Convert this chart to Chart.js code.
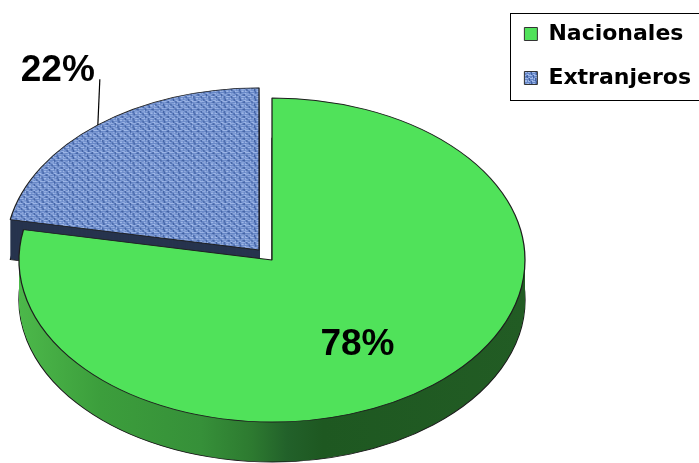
<!DOCTYPE html>
<html>
<head>
<meta charset="utf-8">
<script src="https://cdn.jsdelivr.net/npm/chart.js@4/dist/chart.umd.min.js"></script>
<style>
  html, body { margin: 0; padding: 0; background: #fff; overflow: hidden; }
  canvas { display: block; }
</style>
</head>
<body>
<canvas id="chart" width="699" height="463"></canvas>
<script>
// Visitor origin shares (percent)
const categories = ['Nacionales', 'Extranjeros'];
const shares = [78, 22];
const explode = [0, 64];

// Woven tile used for the "Extranjeros" slice
const weaveRows = [
  'LL.DLLL.DLL.',
  '...D....D...',
  'L.lD.LL.D.lL',
  'LLLL.DLLLL.D',
  '.....D....DD',
  'lL..LD.lL..D',
  '.DLLL.LD.LLL',
  '.D....LD....',
  'LD.lL..D.LL.'
];
const weaveInk = { '.': '#6787c7', L: '#9fb8e8', l: '#84a1da', D: '#4262a4' };

function wovenPattern() {
  const c = document.createElement('canvas');
  c.width = weaveRows[0].length; c.height = weaveRows.length;
  const g = c.getContext('2d');
  weaveRows.forEach((row, y) => {
    [...row].forEach((ch, x) => { g.fillStyle = weaveInk[ch]; g.fillRect(x, y, 1, 1); });
  });
  return document.getElementById('chart').getContext('2d').createPattern(c, 'repeat');
}

const sliceColors = ['#50e25a', wovenPattern()];

// Shared mapping from the pie's circular layout to the tilted ellipse
function tiltMap(chart) {
  const o = chart.options.plugins.tiltedPie;
  const arcs = chart.getDatasetMeta(0).data;
  const { x: ox, y: oy, outerRadius: R } = arcs[0];
  const sx = o.rx / R, sy = o.ry / R;
  return {
    o, arcs, ox, oy, R, sx, sy,
    toScreen(px, py) { return [o.cx + (px - ox) * sx, o.cy + (py - oy) * sy]; }
  };
}

// Draws the pie as a tilted disc with a side wall
const tiltedPie = {
  id: 'tiltedPie',
  beforeDatasetsDraw(chart) {
    const ctx = chart.ctx;
    const { o, arcs, ox, oy, R, sx, sy } = tiltMap(chart);
    ctx.save();
    ctx.translate(o.cx, o.cy);
    ctx.scale(sx, sy);
    ctx.translate(-ox, -oy);

    const grad = ctx.createLinearGradient(ox - R, 0, ox + R, 0);
    o.sideStops.forEach(([p, c]) => grad.addColorStop(p, c));
    const sides = [grad, o.backSide];

    const paint = (arc, patch) => {
      const keep = arc.options;
      arc.options = Object.assign({}, keep, patch);
      arc.draw(ctx);
      arc.options = keep;
    };

    o.order.forEach(i => {
      const arc = arcs[i];
      for (let d = o.depth; d >= 1; d--) {
        ctx.save();
        ctx.translate(0, d / sy);
        paint(arc, d === o.depth
          ? { backgroundColor: sides[i], borderColor: o.edge, borderWidth: 1 }
          : { backgroundColor: sides[i], borderWidth: 0 });
        ctx.restore();
      }
      arc.draw(ctx);
    });
    ctx.restore();
    return false;
  }
};

// Percentage labels on/next to the slices
const sliceLabels = {
  id: 'sliceLabels',
  afterDraw(chart) {
    const ctx = chart.ctx;
    const { arcs, R, toScreen } = tiltMap(chart);
    ctx.save();
    ctx.fillStyle = '#000';
    ctx.strokeStyle = '#000';
    ctx.font = 'bold 37px "Liberation Sans", Arial, sans-serif';
    arcs.forEach((arc, i) => {
      const mid = (arc.startAngle + arc.endAngle) / 2;
      const shift = (arc.options.offset || 0) / 4;
      const bx = arc.x + Math.cos(mid) * shift, by = arc.y + Math.sin(mid) * shift;
      const text = shares[i] + '%';
      if (i === 0) {
        const [x, y] = toScreen(bx + Math.cos(mid) * R * 0.53, by + Math.sin(mid) * R * 0.53);
        ctx.textAlign = 'center';
        ctx.textBaseline = 'middle';
        ctx.fillText(text, x, y + 19);
      } else {
        const [x, y] = toScreen(bx + Math.cos(mid) * R, by + Math.sin(mid) * R);
        ctx.lineWidth = 1.2;
        ctx.beginPath();
        ctx.moveTo(x, y);
        ctx.lineTo(x + 2, y - 46);
        ctx.stroke();
        ctx.textAlign = 'right';
        ctx.textBaseline = 'alphabetic';
        ctx.fillText(text, x - 3, y - 44);
      }
    });
    ctx.restore();
  }
};

// Frame around the legend
const legendFrame = {
  id: 'legendFrame',
  afterDraw(chart) {
    const hb = chart.legend.legendHitBoxes;
    if (!hb || !hb.length) return;
    const ctx = chart.ctx;
    const last = hb[hb.length - 1];
    const left = Math.round(hb[0].left - 14) + 0.5;
    const top = Math.round(hb[0].top - 10.5) + 0.5;
    const bottom = Math.round(last.top + last.height + 11) + 0.5;
    ctx.save();
    ctx.strokeStyle = '#000';
    ctx.lineWidth = 1;
    ctx.strokeRect(left, top, chart.width - left + 5, bottom - top);
    ctx.restore();
  }
};

const pieLegendLabels = Chart.overrides.pie.plugins.legend.labels.generateLabels;

new Chart(document.getElementById('chart'), {
  type: 'pie',
  data: {
    labels: categories,
    datasets: [{
      data: shares,
      backgroundColor: sliceColors,
      borderColor: '#1e1e1e',
      borderWidth: 1,
      offset: explode,
      radius: 200
    }]
  },
  options: {
    responsive: false,
    animation: false,
    devicePixelRatio: 1,
    events: [],
    layout: { padding: { top: 1, right: -2 } },
    plugins: {
      tooltip: { enabled: false },
      legend: {
        position: 'right',
        align: 'start',
        labels: {
          boxWidth: 13,
          boxHeight: 13,
          padding: 22,
          color: '#000',
          font: { family: '"DejaVu Sans", sans-serif', weight: 'bold', size: 22 },
          generateLabels(chart) {
            return pieLegendLabels(chart).map(it => Object.assign(it, { lineWidth: 1, strokeStyle: '#333' }));
          }
        }
      },
      tiltedPie: {
        cx: 272, cy: 260, rx: 253, ry: 162, depth: 40,
        order: [1, 0],
        edge: '#1a1a1a',
        backSide: '#27344e',
        sideStops: [[0, '#4cb84a'], [0.16, '#3c9e3c'], [0.36, '#369039'], [0.46, '#2d7a30'],
                    [0.53, '#22612a'], [0.6, '#1e5821'], [1, '#225c24']]
      }
    }
  },
  plugins: [tiltedPie, sliceLabels, legendFrame]
});
</script>
</body>
</html>
